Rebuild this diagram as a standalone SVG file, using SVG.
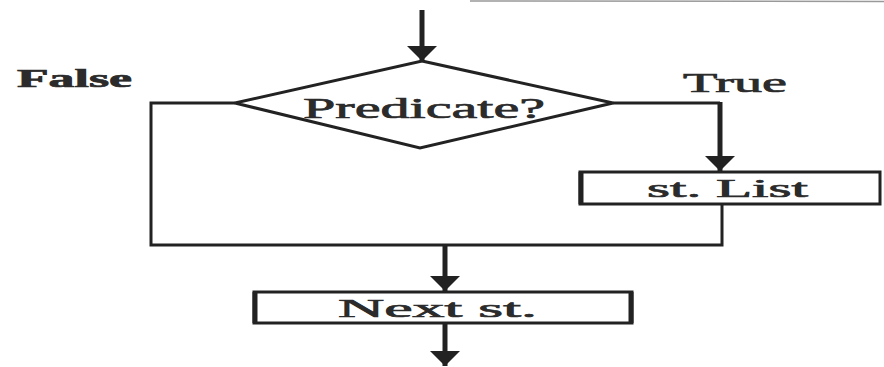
<svg xmlns="http://www.w3.org/2000/svg" width="884" height="367" viewBox="0 0 884 367">
<style>
.ln{fill:none;stroke:#222;stroke-width:3;stroke-linejoin:miter}
.sh{fill:none;stroke:#222;stroke-width:5}
.box{fill:#fff;stroke:#222;stroke-width:3}
.t{font-family:"Liberation Serif","Times New Roman",serif;fill:#2b2b2b;stroke:#2b2b2b;stroke-width:0.7}
</style>
<defs>
<marker id="ah" markerUnits="userSpaceOnUse" markerWidth="16" markerHeight="32" refX="15" refY="15" orient="auto" viewBox="0 0 16 32">
<path d="M0,0 L15,15 L0,30 z" fill="#222"/>
</marker>
</defs>
<rect width="884" height="367" fill="#fff"/>
<line x1="470" y1="1" x2="884" y2="1.5" stroke="#999" stroke-width="1.5"/>
<g id="connectors">
<line class="sh" x1="422" y1="10" x2="422" y2="61" marker-end="url(#ah)"/>
<polyline class="ln" points="613,103 720,103"/>
<line class="sh" x1="720" y1="102" x2="720" y2="171" marker-end="url(#ah)"/>
<polyline class="ln" points="235,103 151,103 151,245 722,245 722,204"/>
<line class="sh" x1="445" y1="245" x2="445" y2="291" marker-end="url(#ah)"/>
<line class="sh" x1="445" y1="323" x2="445" y2="366" marker-end="url(#ah)"/>
</g>
<g id="label-false"><text class="t" x="17" y="87" font-size="25" font-weight="bold" textLength="115" lengthAdjust="spacingAndGlyphs">False</text></g>
<g id="label-true"><text class="t" x="683" y="92" font-size="28" textLength="104" lengthAdjust="spacingAndGlyphs">True</text></g>
<g id="predicate">
<polygon class="box" points="422,61 613,103 420,148 235,103"/>
<text class="t" x="303" y="118" font-size="30" textLength="242" lengthAdjust="spacingAndGlyphs">Predicate?</text>
</g>
<g id="st-list">
<rect class="box" x="580" y="172" width="300" height="32"/>
<line x1="581" y1="172" x2="581" y2="204" stroke="#222" stroke-width="5"/>
<text class="t" x="647" y="197" font-size="26" textLength="161" lengthAdjust="spacingAndGlyphs">st. List</text>
</g>
<g id="next-st">
<rect class="box" x="254" y="292" width="378" height="31"/>
<line x1="255" y1="292" x2="255" y2="323" stroke="#222" stroke-width="5"/>
<line x1="631" y1="292" x2="631" y2="323" stroke="#222" stroke-width="5"/>
<text class="t" x="338" y="317" font-size="26" textLength="199" lengthAdjust="spacingAndGlyphs">Next  st.</text>
</g>
</svg>
